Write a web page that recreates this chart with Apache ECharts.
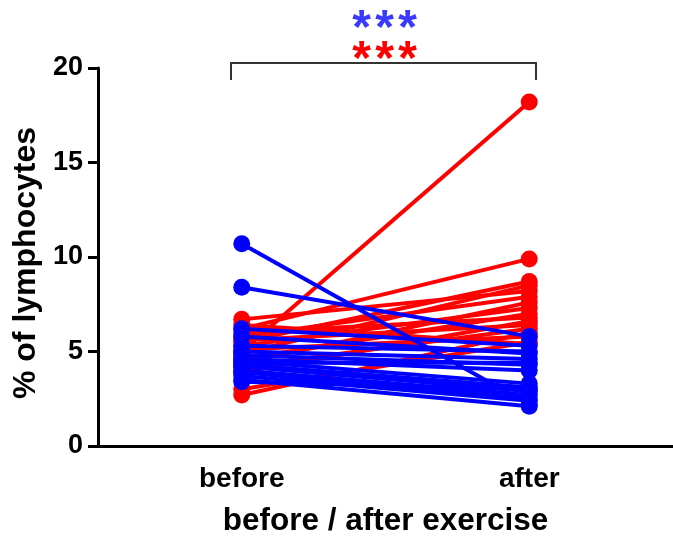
<!DOCTYPE html>
<html>
<head>
<meta charset="utf-8">
<script src="https://cdn.jsdelivr.net/npm/echarts@6/dist/echarts.min.js"></script>
<style>html,body{margin:0;padding:0;background:#fff}#c{width:673px;height:542px}</style>
</head>
<body>
<div id="c"></div>
<script>
const categories = ['before', 'after'];
const yTicks = [0, 5, 10, 15, 20];
const redBefore = [5.0, 6.2, 5.5, 4.9, 6.7, 5.8, 4.4, 5.3, 4.6, 6.0, 3.9, 5.6, 4.2, 2.7, 5.1, 3.0, 6.4];
const redAfter  = [18.2, 9.9, 8.7, 8.5, 8.2, 7.9, 7.6, 7.3, 7.0, 6.8, 6.6, 6.4, 6.2, 6.0, 5.8, 5.5, 5.4];
const blueBefore = [10.7, 8.4, 6.2, 5.8, 5.3, 5.0, 4.8, 4.6, 4.5, 4.3, 4.2, 4.0, 3.9, 3.7, 3.5, 3.4, 4.4];
const blueAfter  = [2.2, 5.8, 5.3, 4.9, 5.0, 4.6, 4.3, 4.0, 3.3, 3.1, 2.9, 2.7, 2.5, 2.4, 2.1, 3.0, 4.4];
const sigBlue = '***';
const sigRed = '***';

const FONT = '"Liberation Sans", Arial, sans-serif';
const chart = echarts.init(document.getElementById('c'), null, {renderer: 'canvas'});

function pairSeries(before, after, color) {
  return before.map((b, i) => ({
    type: 'line',
    data: [b, after[i]],
    symbol: 'circle',
    symbolSize: 17,
    lineStyle: {color: color, width: 4},
    itemStyle: {color: color},
    animation: false,
    silent: true
  }));
}

const series = [].concat(pairSeries(redBefore, redAfter, '#ff0000'), pairSeries(blueBefore, blueAfter, '#0000ff'));

chart.setOption({
  animation: false,
  grid: {left: 98, top: 68, width: 580, height: 384, containLabel: false},
  xAxis: {
    type: 'category',
    data: categories,
    boundaryGap: true,
    name: 'before / after exercise',
    nameLocation: 'middle',
    nameGap: 59,
    nameTextStyle: {fontFamily: FONT, fontWeight: 'bold', fontSize: 31.5, color: '#000'},
    axisLine: {lineStyle: {color: '#000', width: 3}},
    axisTick: {alignWithLabel: true, length: 8, lineStyle: {color: '#000', width: 3}},
    axisLabel: {fontFamily: FONT, fontWeight: 'bold', fontSize: 28, color: '#000', margin: 19}
  },
  yAxis: {
    type: 'value',
    min: 0, max: 20, interval: 5,
    name: '% of lymphocytes',
    nameLocation: 'middle',
    nameGap: 55,
    nameRotate: 90,
    nameTextStyle: {fontFamily: FONT, fontWeight: 'bold', fontSize: 32, color: '#000', padding: [0, 12, 0, 0]},
    axisLine: {show: true, lineStyle: {color: '#000', width: 3}},
    axisTick: {show: true, length: 10, lineStyle: {color: '#000', width: 3}},
    splitLine: {show: false},
    axisLabel: {fontFamily: FONT, fontWeight: 'bold', fontSize: 27, color: '#000', margin: 15,
      formatter: v => yTicks.includes(v) ? String(v) : ''}
  },
  series: series
});

const pB = chart.convertToPixel({xAxisIndex: 0, yAxisIndex: 0}, [0, 20]);
const pA = chart.convertToPixel({xAxisIndex: 0, yAxisIndex: 0}, [1, 20]);
const x0 = Math.round(pB[0]) - 11, x1 = Math.round(pA[0]) + 7;
const by = 63;
const cx = (x0 + x1) / 2 + 1;
const graphics = [
  {type: 'polyline', shape: {points: [[x0, by + 17], [x0, by], [x1, by], [x1, by + 17]]},
   style: {stroke: '#333', lineWidth: 2, fill: null}}
];
function addStars(str, y, color) {
  const step = 23;
  const n = str.length;
  for (let i = 0; i < n; i++) {
    graphics.push({type: 'text', x: cx + (i - (n - 1) / 2) * step, y: y,
      style: {text: str[i], fill: color, font: 'bold 48px ' + FONT, textAlign: 'center', textVerticalAlign: 'middle'}});
  }
}
addStars(sigBlue, 30, '#3a3aff');
addStars(sigRed, 61, '#ff0000');
chart.setOption({graphic: graphics});
</script>
</body>
</html>
